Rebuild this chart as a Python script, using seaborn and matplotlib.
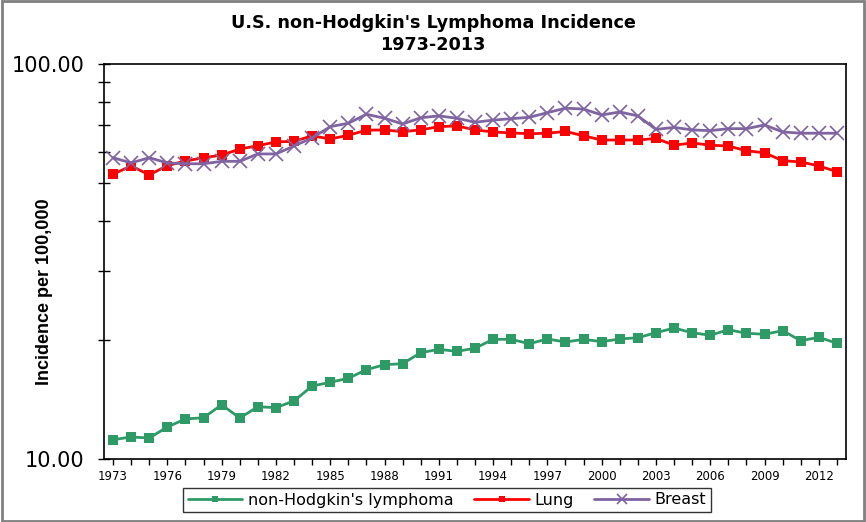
import numpy as np
import pandas as pd
import matplotlib.pyplot as plt
import matplotlib.ticker as mticker
from matplotlib.patches import Rectangle
import seaborn as sns

# Datos (incidencia por 100.000)
years = list(range(1973, 2014))

nhl = [11.19, 11.37, 11.30, 12.05, 12.63, 12.72, 13.72, 12.70, 13.56, 13.49,
       14.03, 15.30, 15.64, 16.01, 16.83, 17.33, 17.43, 18.58, 18.95, 18.73,
       19.07, 20.09, 20.09, 19.58, 20.13, 19.78, 20.09, 19.82, 20.13, 20.28,
       20.88, 21.46, 20.88, 20.57, 21.25, 20.81, 20.69, 21.13, 19.93, 20.33,
       19.63]

lung = [52.6, 55.2, 52.4, 55.3, 56.8, 57.9, 58.8, 60.9, 62.1, 63.5,
        63.7, 65.8, 64.6, 66.0, 68.0, 68.1, 67.4, 68.1, 69.4, 69.7,
        68.1, 67.3, 66.9, 66.6, 66.8, 67.5, 65.8, 64.2, 64.2, 64.2,
        64.8, 62.3, 63.1, 62.3, 62.0, 60.3, 59.6, 56.9, 56.5, 55.2,
        53.4]

breast = [57.9, 56.2, 57.9, 56.2, 55.9, 55.9, 56.7, 56.7, 59.2, 59.2,
          62.0, 65.0, 69.4, 70.8, 74.6, 72.9, 70.5, 73.1, 73.9, 72.9,
          71.2, 72.1, 72.7, 73.3, 75.3, 77.3, 76.9, 74.3, 75.6, 73.9,
          68.3, 69.1, 68.1, 67.8, 68.6, 68.6, 70.1, 67.3, 66.8, 66.8,
          66.8]

series_names = ["non-Hodgkin's lymphoma", "Lung", "Breast"]
colors = ["#2E9A66", "#FF0000", "#8064A2"]

df = pd.DataFrame({
    "year": years * 3,
    "value": nhl + lung + breast,
    "series": [series_names[0]] * len(years) + [series_names[1]] * len(years)
              + [series_names[2]] * len(years),
})

sns.set_style("white")
plt.rcParams['font.family'] = ['DejaVu Sans']
plt.rcParams.update({"text.color": "black", "axes.labelcolor": "black",
                     "xtick.color": "black", "ytick.color": "black"})

fig = plt.figure(figsize=(8.66, 5.22), dpi=100)
ax = fig.add_axes([104 / 866, 1 - 459 / 522, 742 / 866, 395 / 522])

# marcadores: cuadrados para NHL y pulmon, cruz para mama
markers = ["s", "s", "x"]
sizes = [6.5, 6.5, 9.5]
for name, col, mk, ms in zip(series_names, colors, markers, sizes):
    sub = df[df["series"] == name]
    sns.lineplot(data=sub, x="year", y="value", ax=ax, color=col, marker=mk,
                 markersize=ms, linewidth=2, markeredgewidth=1.2 if mk == "x" else 0,
                 markeredgecolor=col, label=name, legend=False)

ax.set_yscale("log")
ax.set_ylim(10, 100)
ax.set_xlim(1972.5, 2013.5)

ax.yaxis.set_major_locator(mticker.FixedLocator([10, 100]))
ax.yaxis.set_major_formatter(mticker.FixedFormatter(["10.00", "100.00"]))
ax.yaxis.set_minor_locator(mticker.FixedLocator([20, 30, 40, 50, 60, 70, 80, 90]))
ax.yaxis.set_minor_formatter(mticker.NullFormatter())
ax.tick_params(axis="y", which="major", direction="inout", length=8, width=1,
               labelsize=15, pad=10)
ax.tick_params(axis="y", which="minor", direction="inout", length=8, width=1, left=True)

ax.set_xticks(list(range(1973, 2014, 3)))
ax.set_xticks(years, minor=True)
ax.tick_params(axis="x", which="major", direction="out", length=4, width=1,
               labelsize=8.5, pad=4)
ax.tick_params(axis="x", which="minor", direction="out", length=4, width=1, bottom=True)
ax.tick_params(left=True, bottom=True)

for sp in ax.spines.values():
    sp.set_color("black")
    sp.set_linewidth(1.2)

ax.set_xlabel("")
ax.set_ylabel("")
fig.text(45 / 866, 1 - 292 / 522, "Incidence per 100,000", rotation=90,
         ha="center", va="center", fontsize=13, fontweight="bold",
         family="Liberation Sans")

fig.text(0.5, 1 - 23 / 522, "U.S. non-Hodgkin's Lymphoma Incidence", ha="center",
         va="center", fontsize=12.7, fontweight="bold")
fig.text(0.5, 1 - 45 / 522, "1973-2013", ha="center", va="center",
         fontsize=12.7, fontweight="bold")

handles, labels = ax.get_legend_handles_labels()
leg = fig.legend(handles, labels, loc="center", ncol=3,
                 bbox_to_anchor=(447 / 866, 1 - 500 / 522), frameon=True,
                 fancybox=False, edgecolor="black", fontsize=11.5,
                 handlelength=3.4, columnspacing=1.3, handletextpad=0.35,
                 borderpad=0.3, markerscale=0.75)
leg.get_frame().set_linewidth(1)

fig.patches.append(Rectangle((0.002, 0.002), 0.996, 0.996, transform=fig.transFigure,
                             fill=False, edgecolor="#808080", linewidth=2))

fig.savefig("out.png", dpi=100)
